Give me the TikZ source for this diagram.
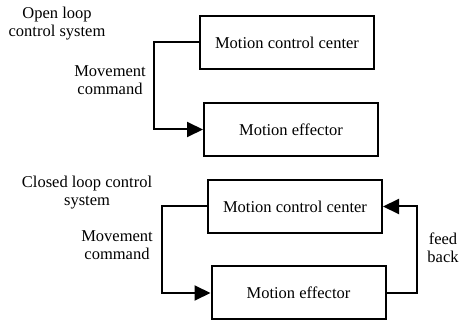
\documentclass[tikz,border=0pt]{standalone}
\usepackage{fontspec}
\setmainfont{Liberation Serif}
\usetikzlibrary{arrows.meta, positioning}
\tikzset{
  box/.style={rectangle,draw,line width=2pt,align=center,minimum width=174pt,minimum height=53pt,inner sep=0pt},
  lbl/.style={align=center,inner sep=0pt},
  line/.style={line width=2pt,-{Triangle[length=16pt,width=15pt]}}
}

\begin{document}
\begin{tikzpicture}[x=1pt,y=-1pt,font=\fontsize{16.5}{18}\selectfont]
\useasboundingbox (0,0) rectangle (459,321);
% open loop
\node[box] (oc) at (287,42.5) {Motion control center};
\node[box] (oe) at (291,129.5) {Motion effector};
\node[lbl] (ot) at (57,24) {Open loop\\control system};
\node[lbl] (om) at (110,80) {Movement\\command};
\draw[line] (oc.west) -- ++(-45,0) |- (oe.west);
% closed loop
\node[box] (cc) at (295,206.5) {Motion control center};
\node[box] (ce) at (298.5,293) {Motion effector};
\node[lbl] (ct) at (87,193) {Closed loop control\\system};
\node[lbl] (cm) at (117,245) {Movement\\command};
\node[lbl] (fb) at (443,248) {feed\\back};
\draw[line] (cc.west) -- ++(-45,0) |- (ce.west);
\draw[line] (ce.east) -- ++(30,0) |- (cc.east);
\end{tikzpicture}
\end{document}
